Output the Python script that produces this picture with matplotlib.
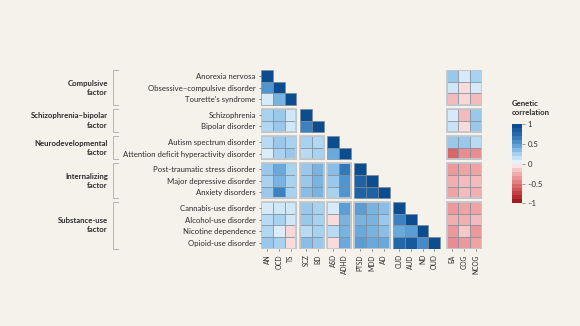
import matplotlib

matplotlib.use("Agg")
import matplotlib.pyplot as plt
import matplotlib.transforms as mtransforms
import numpy as np
from matplotlib.colors import LinearSegmentedColormap, Normalize
from matplotlib.cm import ScalarMappable
from matplotlib.lines import Line2D
from matplotlib.patches import Rectangle

BACKGROUND_COLOR = "#f5f2ec"
TEXT_COLOR = "#2b2b2b"
CELL_EDGE = "#7d8994"
BLOCK_EDGE = "#c4c8cb"
BRACKET_COLOR = "#b5b5b5"

ROW_LABELS = [
    "Anorexia nervosa",
    "Obsessive–compulsive disorder",
    "Tourette's syndrome",
    "Schizophrenia",
    "Bipolar disorder",
    "Autism spectrum disorder",
    "Attention deficit hyperactivity disorder",
    "Post-traumatic stress disorder",
    "Major depressive disorder",
    "Anxiety disorders",
    "Cannabis-use disorder",
    "Alcohol-use disorder",
    "Nicotine dependence",
    "Opioid-use disorder",
]
COL_ABBR = ["AN", "OCD", "TS", "SCZ", "BD", "ASD", "ADHD", "PTSD", "MDD", "AD",
            "CUD", "AUD", "ND", "OUD"]
EXTRA_ABBR = ["EA", "COG", "NCOG"]

BLOCK_SIZES = [3, 2, 2, 3, 4]
GROUP_LABELS = [
    "Compulsive\nfactor",
    "Schizophrenia–bipolar\nfactor",
    "Neurodevelopmental\nfactor",
    "Internalizing\nfactor",
    "Substance-use\nfactor",
]

# lower triangle, each row up to and including the diagonal
LOWER = [
    [1.0],
    [0.55, 1.0],
    [0.10, 0.40, 1.0],
    [0.25, 0.30, 0.12, 1.0],
    [0.22, 0.30, 0.12, 0.65, 1.0],
    [0.20, 0.30, 0.25, 0.25, 0.22, 1.0],
    [0.08, 0.25, 0.30, 0.20, 0.25, 0.45, 1.0],
    [0.30, 0.45, 0.25, 0.30, 0.40, 0.35, 0.70, 1.0],
    [0.25, 0.40, 0.25, 0.30, 0.40, 0.30, 0.55, 0.85, 1.0],
    [0.30, 0.65, 0.25, 0.35, 0.40, 0.25, 0.55, 0.85, 0.85, 1.0],
    [0.10, 0.12, 0.12, 0.30, 0.25, 0.10, 0.50, 0.50, 0.40, 0.35, 1.0],
    [0.20, 0.25, 0.12, 0.30, 0.25, -0.08, 0.40, 0.40, 0.40, 0.30, 0.65, 1.0],
    [0.22, 0.08, -0.10, 0.20, 0.25, 0.20, 0.40, 0.45, 0.40, 0.35, 0.45, 0.50, 1.0],
    [0.30, 0.25, -0.08, 0.35, 0.30, -0.08, 0.45, 0.50, 0.45, 0.45, 0.80, 0.90, 0.60, 1.0],
]

# education attainment, cognition, non-cognitive skills
EXTRA = [
    [0.30, 0.10, 0.25],
    [0.12, -0.08, 0.10],
    [-0.20, -0.10, -0.20],
    [0.10, -0.20, 0.30],
    [0.15, -0.08, 0.30],
    [0.30, 0.30, 0.20],
    [-0.60, -0.40, -0.40],
    [-0.35, -0.30, -0.30],
    [-0.25, -0.20, -0.20],
    [-0.30, -0.20, -0.25],
    [-0.35, -0.30, -0.30],
    [-0.25, -0.25, -0.20],
    [-0.35, -0.15, -0.35],
    [-0.40, -0.35, -0.30],
]

CMAP = LinearSegmentedColormap.from_list(
    "gencorr",
    [
        (0.000, "#a31c22"),
        (0.125, "#c9474c"),
        (0.250, "#e2797d"),
        (0.375, "#f1aeb0"),
        (0.500, "#fbf1f0"),
        (0.505, "#f2f8fd"),
        (0.625, "#a9d3f1"),
        (0.750, "#5b9fd6"),
        (0.875, "#2a70b2"),
        (1.000, "#0b4d8f"),
    ],
)
NORM = Normalize(-1, 1)

CELL_PX = 11.7
GAP = 0.32
EXTRA_GAP = 0.55
DPI = 100
FIG_W, FIG_H = 580, 326


def block_starts():
    starts, pos = [], 0
    for size in BLOCK_SIZES:
        starts.append(pos)
        pos += size
    return starts


def cell_offsets():
    offsets = []
    for b, size in enumerate(BLOCK_SIZES):
        for _ in range(size):
            offsets.append(len(offsets) + GAP * b)
    return offsets


def draw_cell(ax, x, y, value):
    ax.add_patch(Rectangle((x, y), 1, 1, facecolor=CMAP(NORM(value)),
                           edgecolor=CELL_EDGE, linewidth=0.45))


def main():
    fig = plt.figure(figsize=(FIG_W / DPI, FIG_H / DPI), dpi=DPI)
    fig.patch.set_facecolor(BACKGROUND_COLOR)
    plt.rcParams["font.family"] = ["Lato", "DejaVu Sans"]

    n = len(ROW_LABELS)
    offs = cell_offsets()
    starts = block_starts()
    extra_x0 = offs[-1] + 1 + EXTRA_GAP
    width_units = extra_x0 + len(EXTRA_ABBR)
    height_units = offs[-1] + 1

    left, top = 261.3, 70
    ax_w, ax_h = width_units * CELL_PX, height_units * CELL_PX
    ax = fig.add_axes([left / FIG_W, 1 - (top + ax_h) / FIG_H, ax_w / FIG_W, ax_h / FIG_H])
    ax.set_facecolor("none")
    ax.set_xlim(0, width_units)
    ax.set_ylim(height_units, 0)
    for spine in ax.spines.values():
        spine.set_visible(False)

    # lower triangle cells
    for i, row in enumerate(LOWER):
        for j, value in enumerate(row):
            draw_cell(ax, offs[j], offs[i], value)
        for k, value in enumerate(EXTRA[i]):
            draw_cell(ax, extra_x0 + k, offs[i], value)

    # block frames (off-diagonal blocks and extra columns)
    for bi, size_i in enumerate(BLOCK_SIZES):
        y0 = offs[starts[bi]]
        for bj in range(bi):
            x0 = offs[starts[bj]]
            ax.add_patch(Rectangle((x0, y0), BLOCK_SIZES[bj], size_i, fill=False,
                                   edgecolor=BLOCK_EDGE, linewidth=1.3))
        ax.add_patch(Rectangle((extra_x0, y0), len(EXTRA_ABBR), size_i, fill=False,
                               edgecolor=BLOCK_EDGE, linewidth=1.3))

    # ticks and labels
    ax.set_yticks([o + 0.5 for o in offs])
    ax.set_yticklabels(ROW_LABELS, fontsize=5.6, color=TEXT_COLOR)
    xticks = [o + 0.5 for o in offs] + [extra_x0 + k + 0.5 for k in range(len(EXTRA_ABBR))]
    ax.set_xticks(xticks)
    ax.set_xticklabels(COL_ABBR + EXTRA_ABBR, rotation=90, fontsize=4.8, color=TEXT_COLOR)
    ax.tick_params(axis="both", length=1.5, width=0.5, color="#555555", pad=2.5)

    # factor group labels with brackets
    blend = mtransforms.blended_transform_factory(fig.transFigure, ax.transData)
    for b, label in enumerate(GROUP_LABELS):
        y0 = offs[starts[b]]
        y1 = offs[starts[b] + BLOCK_SIZES[b] - 1] + 1
        ax.text(108 / FIG_W, (y0 + y1) / 2, label, transform=blend, ha="right", va="center",
                fontsize=5.6, fontweight="bold", color=TEXT_COLOR, linespacing=1.35)
        xs = [118 / FIG_W, 112.5 / FIG_W, 112.5 / FIG_W, 118 / FIG_W]
        ys = [y0, y0, y1, y1]
        ax.add_line(Line2D(xs, ys, transform=blend, color=BRACKET_COLOR, linewidth=0.7,
                           clip_on=False))

    # colour bar
    cax = fig.add_axes([511.7 / FIG_W, 1 - 203.3 / FIG_H, 10 / FIG_W, 79 / FIG_H])
    sm = ScalarMappable(norm=NORM, cmap=CMAP.resampled(20))
    cb = fig.colorbar(sm, cax=cax, ticks=[1, 0.5, 0, -0.5, -1])
    cb.outline.set_visible(False)
    cb.ax.set_yticklabels(["1", "0.5", "0", "–0.5", "–1"])
    cb.ax.tick_params(length=2, width=0.5, color="#777777", labelsize=5.6,
                      labelcolor=TEXT_COLOR, pad=2)
    fig.text(511.7 / FIG_W, 1 - 100 / FIG_H, "Genetic\ncorrelation", ha="left", va="top",
             fontsize=5.6, fontweight="bold", color=TEXT_COLOR, linespacing=1.3)

    fig.savefig("out.png", dpi=DPI, facecolor=BACKGROUND_COLOR)
    plt.close(fig)


if __name__ == "__main__":
    main()
